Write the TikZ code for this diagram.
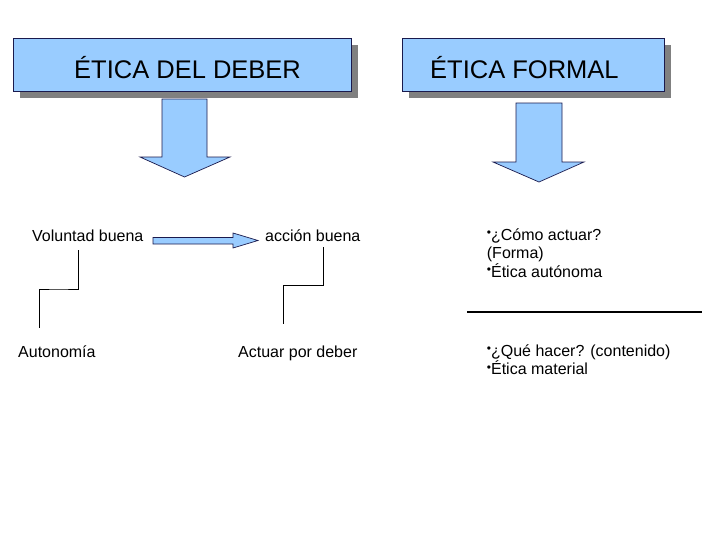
\documentclass[tikz,border=0pt]{standalone}
\usepackage{fontspec}
\setmainfont{Liberation Sans}
\usetikzlibrary{calc}

\definecolor{boxblue}{HTML}{99CCFF}
\definecolor{boxline}{HTML}{1A1A4D}
\definecolor{shadowgray}{HTML}{808080}

\tikzset{
    titlebox/.style={draw=boxline, fill=boxblue, line width=0.8pt},
    shadowbox/.style={fill=shadowgray},
    bigarrow/.style={draw=boxline, fill=boxblue, line width=0.7pt, line join=miter},
    titletext/.style={anchor=base west, inner sep=0pt, font=\fontsize{25.5}{30}\selectfont},
    bodytext/.style={anchor=base west, inner sep=0pt, font=\fontsize{16}{18.5}\selectfont},
    listtext/.style={bodytext, align=left}
}
\newcommand{\bul}{\raisebox{3.5pt}{\fontsize{12}{12}\selectfont •}}

\begin{document}
\begin{tikzpicture}[x=1pt, y=-1pt]
    \useasboundingbox (0,0) rectangle (728,546);

    %title boxes with shadow
        \fill[shadowbox] (20,45) rectangle (358,98);
        \draw[titlebox] (13,38) rectangle (351,91);
        \node[titletext] (deber) at (74,78.3) {ÉTICA DEL DEBER};

        \fill[shadowbox] (409,45) rectangle (671,98);
        \draw[titlebox] (402,38) rectangle (664,91);
        \node[titletext] (formal) at (430,78) {ÉTICA FORMAL};

    %down arrows
        \draw[bigarrow] (162,99) -- (207,99) -- (207,157) -- (230,157) -- (184.5,177)
            -- (140,157) -- (162,157) -- cycle;
        \draw[bigarrow] (516,103) -- (562,103) -- (562,162) -- (584,162) -- (539,182)
            -- (493,162) -- (516,162) -- cycle;

    %left column
        \node[bodytext] (vol) at (32,241.7) {Voluntad buena};
        \node[bodytext] (accion) at (265,241.7) {acción buena};
        \node[bodytext] (auto) at (18,357.5) {Autonomía};
        \node[bodytext] (actuar) at (238,357.5) {Actuar por deber};

        \draw[bigarrow] (153,237.5) -- (233,237.5) -- (233,233) -- (258,240.5)
            -- (233,248) -- (233,244) -- (153,244) -- cycle;

    %steps
        \coordinate[] (v1) at (78,250);
        \coordinate[] (v2) at (39,328);
        \coordinate[] (a1) at (323,247);
        \coordinate[] (a2) at (283,324);
        \draw[line width=0.8pt] (v1) |- ($(v1)!0.5!(v2)$) -| (v2);
        \draw[line width=0.8pt] (a1) |- ($(a1)!0.5!(a2)$) -| (a2);

    %right column (base = last line)
        \node[listtext] (forma) at (486.7,277) {\bul¿Cómo actuar?\\(Forma)\\\bul Ética autónoma};
        \coordinate[] (s1) at (467,312);
        \coordinate[] (s2) at (702,312);
        \draw[line width=2pt] (s1) -- (s2);
        \node[listtext] (material) at (486.7,374.5) {\bul¿Qué hacer? (contenido)\\\bul Ética material};

\end{tikzpicture}
\end{document}
